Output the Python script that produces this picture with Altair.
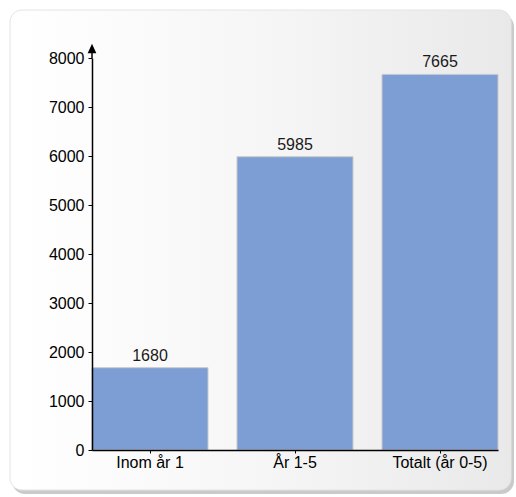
import altair as alt
import pandas as pd

# Bar data
categories = ["Inom år 1", "År 1-5", "Totalt (år 0-5)"]
values = [1680, 5985, 7665]
y_ticks = [0, 1000, 2000, 3000, 4000, 5000, 6000, 7000, 8000]

FONT = "Liberation Sans"
FS = 16
BAR_COLOR = "#7d9ed4"

bars_df = pd.DataFrame({"kategori": categories, "antal": values})
one = pd.DataFrame({"k": [0]})

W, H = 406, 392
PAD_L, PAD_T = 92, 58

x_enc = alt.X(
    "kategori:N",
    sort=categories,
    scale=alt.Scale(paddingInner=0.2, paddingOuter=0),
    axis=alt.Axis(
        title=None, labelAngle=0, labelColor="black", labelFont=FONT,
        labelFontSize=FS, labelPadding=1, tickSize=3, tickColor="black",
        domainColor="black", domainWidth=1.5, zindex=1,
    ),
)
y_enc = alt.Y(
    "antal:Q",
    scale=alt.Scale(domain=[0, 8000], nice=False),
    axis=alt.Axis(
        title=None, values=y_ticks, format="d", grid=False, labelColor="black",
        labelFont=FONT, labelFontSize=FS, labelPadding=4, tickSize=4,
        tickColor="black", domainColor="black", domainWidth=1.5, zindex=1,
    ),
)

# Card with soft shadow behind the plot
shadow = alt.Chart(one).mark_rect(
    fill="#c4c4c4", cornerRadius=13, opacity=0.9
).encode(
    x=alt.value(10 - PAD_L + 2), x2=alt.value(514 - PAD_L),
    y=alt.value(12 - PAD_T + 2), y2=alt.value(494 - PAD_T),
)

card_fill = alt.Gradient(
    gradient="linear",
    stops=[
        alt.GradientStop(color="#ffffff", offset=0),
        alt.GradientStop(color="#f6f6f6", offset=0.5),
        alt.GradientStop(color="#e9e9e9", offset=1),
    ],
    x1=0, x2=1, y1=0, y2=0,
)
card = alt.Chart(one).mark_rect(
    fill=card_fill, cornerRadius=12, stroke="#e4e4e4", strokeWidth=1
).encode(
    x=alt.value(10 - PAD_L), x2=alt.value(511 - PAD_L),
    y=alt.value(10 - PAD_T), y2=alt.value(490 - PAD_T),
)

bars = alt.Chart(bars_df).mark_bar(
    color=BAR_COLOR, stroke="#c9c9c9", strokeWidth=1
).encode(x=x_enc, y=y_enc)

labels = alt.Chart(bars_df).mark_text(
    baseline="bottom", dy=-4, font=FONT, fontSize=FS, color="#1a1a1a"
).encode(x=alt.X("kategori:N", sort=categories), y="antal:Q", text="antal:Q")

# Arrow at the top of the value axis
axis_ext = alt.Chart(one).mark_rule(color="black", strokeWidth=1.5).encode(
    x=alt.value(0), y=alt.value(0), y2=alt.value(-8)
)
arrow = alt.Chart(one).mark_point(
    shape="M-0.5,0.5L0,-0.6L0.5,0.5Z", filled=True, color="black", size=300,
    opacity=1, strokeWidth=0,
).encode(x=alt.value(0), y=alt.value(-9))

chart = (
    alt.layer(shadow, card, bars, labels, axis_ext, arrow)
    .properties(
        width=W, height=H,
        padding={"left": PAD_L, "top": PAD_T, "right": 516 - PAD_L - W, "bottom": 497 - PAD_T - H},
        autosize=alt.AutoSizeParams(type="none"),
        background="white",
    )
    .configure_view(stroke=None)
)

chart.save("out.html", embed_options={"renderer": "svg", "actions": False})
